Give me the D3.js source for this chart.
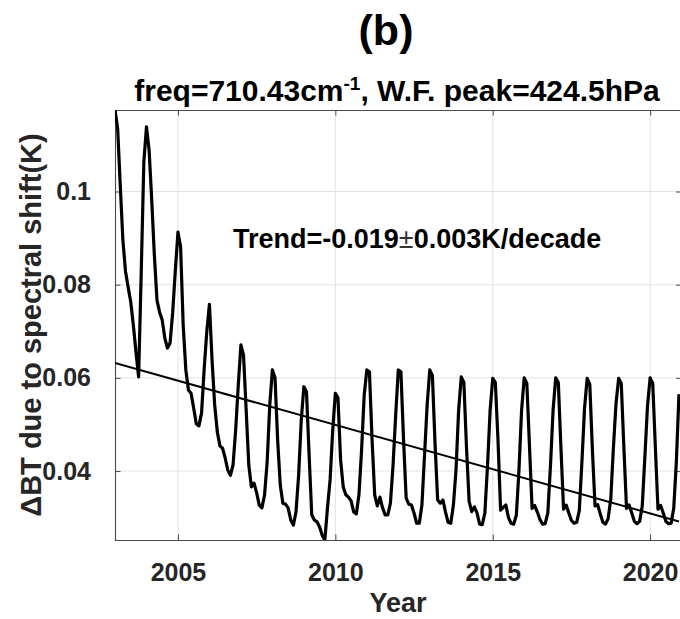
<!DOCTYPE html>
<html>
<head>
<meta charset="utf-8">
<script src="https://cdn.jsdelivr.net/npm/d3@7"></script>
<style>
  body { margin: 0; background: #fff; }
  svg { display: block; font-family: "Liberation Sans", Arial, sans-serif; font-weight: bold; }
</style>
</head>
<body>
<svg id="chart" width="680" height="619"></svg>
<script>
// Monthly ΔBT (K) caused by the spectral shift, one row per year, Jan..Dec
const years = [2003, 2004, 2005, 2006, 2007, 2008, 2009, 2010, 2011,
               2012, 2013, 2014, 2015, 2016, 2017, 2018, 2019, 2020];
const deltaBT = [
  [0.1175, 0.1136, 0.1014, 0.0896, 0.0829, 0.0795, 0.0763, 0.0713, 0.0655, 0.0602, 0.0827, 0.1064],
  [0.1139, 0.1089, 0.0982, 0.0864, 0.0767, 0.0741, 0.0724, 0.0685, 0.0664, 0.0675, 0.0741, 0.0831],
  [0.0913, 0.0882, 0.0713, 0.0617, 0.0574, 0.0567, 0.0535, 0.0501, 0.0497, 0.0525, 0.0620, 0.0700],
  [0.0758, 0.0638, 0.0542, 0.0484, 0.0454, 0.0449, 0.0428, 0.0402, 0.0391, 0.0413, 0.0488, 0.0585],
  [0.0671, 0.0649, 0.0531, 0.0413, 0.0366, 0.0374, 0.0353, 0.0327, 0.0321, 0.0348, 0.0419, 0.0542],
  [0.0617, 0.0600, 0.0467, 0.0370, 0.0331, 0.0329, 0.0321, 0.0295, 0.0284, 0.0312, 0.0391, 0.0509],
  [0.0581, 0.0570, 0.0435, 0.0306, 0.0295, 0.0291, 0.0280, 0.0262, 0.0252, 0.0321, 0.0381, 0.0488],
  [0.0567, 0.0557, 0.0424, 0.0366, 0.0349, 0.0344, 0.0336, 0.0312, 0.0308, 0.0349, 0.0445, 0.0563],
  [0.0617, 0.0613, 0.0467, 0.0349, 0.0325, 0.0344, 0.0321, 0.0306, 0.0306, 0.0331, 0.0413, 0.0520],
  [0.0617, 0.0613, 0.0467, 0.0342, 0.0329, 0.0327, 0.0310, 0.0288, 0.0288, 0.0327, 0.0434, 0.0542],
  [0.0617, 0.0605, 0.0460, 0.0338, 0.0331, 0.0338, 0.0312, 0.0290, 0.0288, 0.0327, 0.0402, 0.0531],
  [0.0602, 0.0590, 0.0450, 0.0335, 0.0313, 0.0323, 0.0310, 0.0286, 0.0285, 0.0310, 0.0410, 0.0530],
  [0.0599, 0.0590, 0.0467, 0.0316, 0.0322, 0.0327, 0.0300, 0.0288, 0.0286, 0.0305, 0.0402, 0.0531],
  [0.0600, 0.0588, 0.0455, 0.0320, 0.0326, 0.0312, 0.0296, 0.0286, 0.0287, 0.0310, 0.0410, 0.0530],
  [0.0600, 0.0590, 0.0450, 0.0318, 0.0327, 0.0310, 0.0294, 0.0288, 0.0290, 0.0315, 0.0420, 0.0535],
  [0.0599, 0.0586, 0.0445, 0.0325, 0.0328, 0.0308, 0.0290, 0.0286, 0.0298, 0.0340, 0.0450, 0.0545],
  [0.0599, 0.0588, 0.0450, 0.0320, 0.0327, 0.0310, 0.0292, 0.0287, 0.0292, 0.0325, 0.0430, 0.0540],
  [0.0600, 0.0588, 0.0450, 0.0318, 0.0326, 0.0310, 0.0292, 0.0287, 0.0288, 0.0320, 0.0420, 0.0565]
];

// Axis settings
const xDomain = [2003, 2021];
const yDomain = [0.0252, 0.1175];
const xTicks = [2005, 2010, 2015, 2020];
const yTicks = [0.04, 0.06, 0.08, 0.1];
const yTickLabels = ["0.04", "0.06", "0.08", "0.1"];

// Linear trend of the series
const trendPerDecade = -0.019;
const trendError = 0.003;
const trendStartValue = 0.0632;

const panelLabel = "(b)";
const freq = "710.43";
const wfPeak = "424.5";

const svg = d3.select("#chart");
const plot = { left: 115, right: 681.6, top: 110, bottom: 540 };

const x = d3.scaleLinear().domain(xDomain).range([plot.left, plot.right]);
const y = d3.scaleLinear().domain(yDomain).range([plot.bottom, plot.top]);

// flatten to (time, value) points, month m sits at year + m/12
const series = [];
years.forEach((yr, i) => deltaBT[i].forEach((v, m) => series.push({ t: yr + m / 12, v })));

svg.append("defs").append("clipPath").attr("id", "plotClip")
  .append("rect")
  .attr("x", plot.left).attr("y", plot.top)
  .attr("width", plot.right - plot.left).attr("height", plot.bottom - plot.top);

// grid
const grid = svg.append("g").attr("stroke", "#e2e2e2").attr("stroke-width", 1);
grid.selectAll("line.gx").data(xTicks).join("line")
  .attr("x1", d => x(d)).attr("x2", d => x(d))
  .attr("y1", plot.top).attr("y2", plot.bottom);
grid.selectAll("line.gy").data(yTicks).join("line")
  .attr("x1", plot.left).attr("x2", plot.right)
  .attr("y1", d => y(d)).attr("y2", d => y(d));

// axes (inward ticks, box on all sides)
const tickLen = 5.5;
const axisColor = "#4a4a4a";
const xBottom = d3.axisBottom(x).tickValues(xTicks).tickSize(-tickLen).tickPadding(23).tickFormat(d3.format("d"));
const xTop = d3.axisTop(x).tickValues(xTicks).tickSize(-tickLen).tickFormat("");
const yLeft = d3.axisLeft(y).tickValues(yTicks).tickSize(-tickLen).tickPadding(24)
  .tickFormat((d, i) => yTickLabels[i]);
const yRight = d3.axisRight(y).tickValues(yTicks).tickSize(-tickLen).tickFormat("");

function styleAxis(g) {
  g.select(".domain").attr("stroke", axisColor).attr("stroke-width", 1.1);
  g.selectAll(".tick line").attr("stroke", axisColor).attr("stroke-width", 1);
  g.selectAll(".tick text").attr("fill", "#262626")
    .attr("font-family", "'Liberation Sans', Arial, sans-serif")
    .attr("font-weight", "bold").attr("font-size", 25);
}
svg.append("g").attr("transform", `translate(0,${plot.bottom})`).call(xBottom).call(styleAxis);
svg.append("g").attr("transform", `translate(0,${plot.top})`).call(xTop).call(styleAxis);
svg.append("g").attr("transform", `translate(${plot.left},0)`).call(yLeft).call(styleAxis);
svg.append("g").attr("transform", `translate(${plot.right},0)`).call(yRight).call(styleAxis);

// data line
const body = svg.append("g").attr("clip-path", "url(#plotClip)");
body.append("path")
  .datum(series)
  .attr("fill", "none")
  .attr("stroke", "#000")
  .attr("stroke-width", 3.2)
  .attr("stroke-linejoin", "round")
  .attr("d", d3.line().x(d => x(d.t)).y(d => y(d.v)));

// trend line over the data span
const t0 = series[0].t, t1 = series[series.length - 1].t;
const trendAt = t => trendStartValue + trendPerDecade / 10 * (t - t0);
body.append("path")
  .datum([t0, t1])
  .attr("fill", "none")
  .attr("stroke", "#000")
  .attr("stroke-width", 2)
  .attr("d", d3.line().x(d => x(d)).y(d => y(trendAt(d))));

// trend annotation
const trendText = svg.append("text")
  .attr("x", 233).attr("y", 248)
  .attr("font-size", 27).attr("fill", "#000");
trendText.append("tspan").text(`Trend=${trendPerDecade.toFixed(3)}`);
trendText.append("tspan").attr("font-weight", "normal").attr("fill", "#333").text("±");
trendText.append("tspan").text(`${trendError.toFixed(3)}K/decade`);

// titles
svg.append("text")
  .attr("x", 386).attr("y", 45)
  .attr("text-anchor", "middle").attr("font-size", 43).attr("fill", "#000")
  .text(panelLabel);

const sub = svg.append("text")
  .attr("x", 397).attr("y", 101)
  .attr("text-anchor", "middle").attr("font-size", 30).attr("fill", "#000");
sub.append("tspan").text(`freq=${freq}cm`);
sub.append("tspan").attr("font-size", 19).attr("dy", -11).text("-1");
sub.append("tspan").attr("dy", 11).text(`, W.F. peak=${wfPeak}hPa`);

// axis labels
svg.append("text")
  .attr("x", 398).attr("y", 612)
  .attr("text-anchor", "middle").attr("font-size", 27).attr("fill", "#262626")
  .text("Year");

svg.append("text")
  .attr("transform", `translate(41,${(plot.top + plot.bottom) / 2}) rotate(-90)`)
  .attr("text-anchor", "middle").attr("font-size", 29).attr("fill", "#262626")
  .text("ΔBT due to spectral shift(K)");
</script>
</body>
</html>
